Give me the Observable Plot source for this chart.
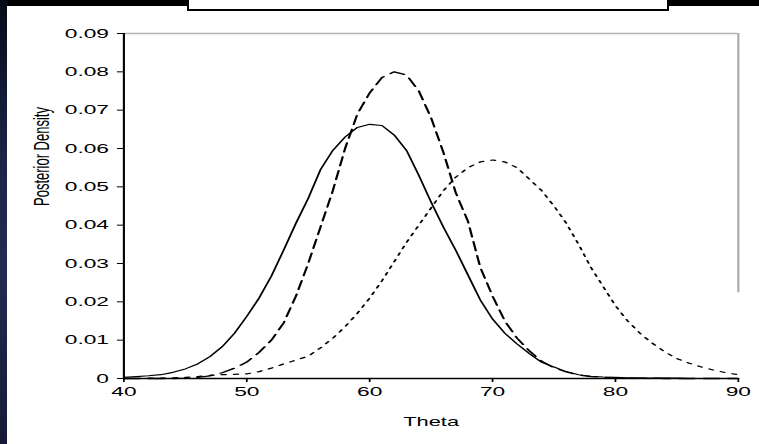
<!DOCTYPE html>
<html>
<head>
<meta charset="utf-8">
<script src="https://cdn.jsdelivr.net/npm/d3@7"></script>
<script src="https://cdn.jsdelivr.net/npm/@observablehq/plot@0.6"></script>
<style>
  html, body { margin: 0; padding: 0; background: #000; }
  #stage { position: relative; width: 759px; height: 444px; overflow: hidden; background: #000; }
  #band { position: absolute; left: 0; top: 0; width: 7px; height: 444px;
          background: linear-gradient(to bottom, #070a18, #1b2447 35%, #222c52 60%, #151b36); }
  #panel { position: absolute; left: 7px; top: 6px; width: 752px; height: 438px; background: #fff; overflow: hidden; }
  #titlebox { position: absolute; left: 187px; top: -3px; width: 478px; height: 10px; background: #fff; border: 2px solid #000; }
  #panel svg { position: absolute; left: 0; top: 0; transform: scaleX(1.75); transform-origin: 0 0; }
</style>
</head>
<body>
<div id="stage">
  <div id="band"></div>
  <div id="panel"></div>
  <div id="titlebox"></div>
</div>
<script>
const theta = [40,41,42,43,44,45,46,47,48,49,50,51,52,53,54,55,56,57,58,59,60,61,62,63,64,65,66,67,68,69,70,71,72,73,74,75,76,77,78,79,80,81,82,83,84,85,86,87,88,89,90];
const solidSeries = [0.0003,0.0005,0.0007,0.0010,0.0016,0.0025,0.0038,0.0057,0.0083,0.0118,0.0162,0.0210,0.0267,0.0335,0.0405,0.0470,0.0545,0.0595,0.0630,0.0655,0.0663,0.0660,0.0635,0.0595,0.0530,0.0460,0.0395,0.0335,0.0270,0.0205,0.0155,0.0118,0.0090,0.0065,0.0042,0.0030,0.0018,0.0010,0.0006,0.0004,0.0003,0.0002,0.0001,0.0001,0.0001,0.0001,0.0000,0.0000,0.0000,0.0000,0.0000];
const dashedSeries = [0.0000,0.0000,0.0000,0.0000,0.0000,0.0001,0.0003,0.0007,0.0015,0.0027,0.0043,0.0068,0.0100,0.0145,0.0215,0.0300,0.0395,0.0490,0.0600,0.0690,0.0745,0.0785,0.0800,0.0792,0.0750,0.0680,0.0590,0.0485,0.0410,0.0290,0.0215,0.0150,0.0105,0.0072,0.0045,0.0028,0.0017,0.0009,0.0005,0.0003,0.0002,0.0001,0.0001,0.0001,0.0000,0.0000,0.0000,0.0000,0.0000,0.0000,0.0000];
const dottedSeries = [0.0000,0.0000,0.0001,0.0001,0.0002,0.0003,0.0005,0.0008,0.0010,0.0011,0.0012,0.0018,0.0027,0.0038,0.0048,0.0058,0.0080,0.0105,0.0135,0.0170,0.0210,0.0255,0.0305,0.0355,0.0400,0.0445,0.0490,0.0525,0.0550,0.0565,0.0570,0.0565,0.0550,0.0520,0.0490,0.0450,0.0405,0.0350,0.0290,0.0240,0.0190,0.0150,0.0118,0.0092,0.0070,0.0052,0.0040,0.0030,0.0022,0.0015,0.0010];
const xTicks = [40,50,60,70,80,90];
const yTicks = [0,0.01,0.02,0.03,0.04,0.05,0.06,0.07,0.08,0.09];
const xLabel = "Theta";
const yLabel = "Posterior Density";
const rightEdgeBottom = 0.0224;

const rows = (vals) => theta.map((t, i) => ({theta: t, v: vals[i]}));

const chart = Plot.plot({
  width: 430,
  height: 438,
  marginLeft: 66.3,
  marginRight: 12.6,
  marginTop: 27,
  marginBottom: 66,
  style: {background: "transparent", fontFamily: "'Liberation Sans', Arial, sans-serif", fontSize: "13px", color: "#000", overflow: "visible"},
  x: {domain: [40, 90], ticks: xTicks, tickSize: 4, tickPadding: 4, label: null, tickFormat: d => String(d)},
  y: {domain: [0, 0.09], ticks: yTicks, tickSize: 3.5, tickPadding: 5, label: null,
      tickFormat: d => d === 0 ? "0" : d.toFixed(2)},
  marks: [
    Plot.ruleY([0.09], {stroke: "#b4b4b4", strokeWidth: 1.6}),
    Plot.ruleX([90], {y1: 0.09, y2: rightEdgeBottom, stroke: "#a8a8a8", strokeWidth: 1.2}),
    Plot.line(rows(dottedSeries), {x: "theta", y: "v", stroke: "#000", strokeWidth: 1.2, strokeDasharray: "2.5,4.5"}),
    Plot.line(rows(dashedSeries), {x: "theta", y: "v", stroke: "#000", strokeWidth: 1.3, strokeDasharray: "9,5"}),
    Plot.line(rows(solidSeries), {x: "theta", y: "v", stroke: "#000", strokeWidth: 1.1}),
    Plot.ruleX([40], {stroke: "#000", strokeWidth: 1.2}),
    Plot.ruleY([0], {stroke: "#000", strokeWidth: 1.4}),
    Plot.text([xLabel], {frameAnchor: "bottom", dy: 43, fontSize: 12.5, fill: "#000", lineAnchor: "middle"}),
    Plot.text([yLabel], {frameAnchor: "left", rotate: -90, dx: -47, fontSize: 13, fill: "#000", lineAnchor: "middle"})
  ]
});
document.getElementById("panel").appendChild(chart);
</script>
</body>
</html>
